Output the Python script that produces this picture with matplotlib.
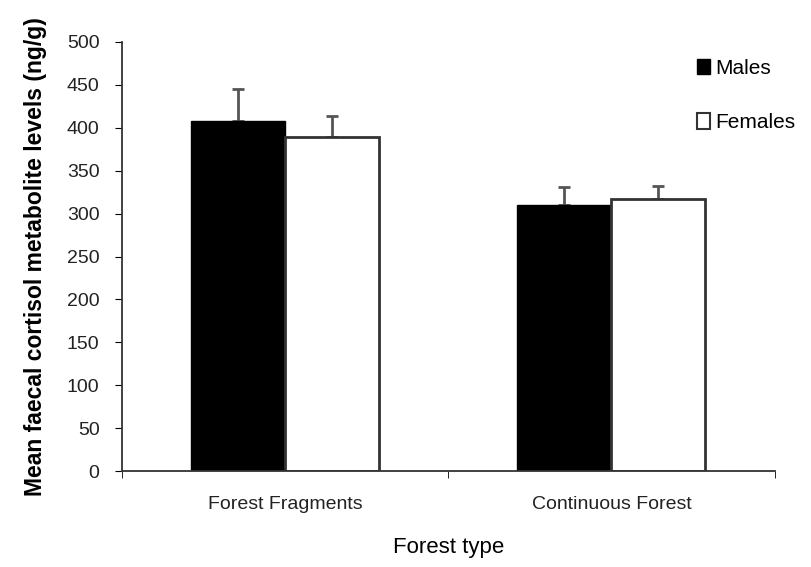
import matplotlib.pyplot as plt
import numpy as np
from matplotlib.patches import Patch

plt.rcParams['font.family'] = ['Liberation Sans', 'DejaVu Sans']

categories = ["Forest Fragments", "Continuous Forest"]
males = [408, 310]
females = [389, 317]
males_err = [37, 21]
females_err = [25, 15]

fig = plt.figure(figsize=(8.12, 5.67), dpi=100)
ax = fig.add_axes([0.150, 0.169, 0.804, 0.757])

x = np.arange(len(categories))
w = 0.288

# error bars first, bars drawn on top hide the lower caps
ax.errorbar(x - w / 2, males, yerr=[np.zeros(2), males_err], fmt='none',
            ecolor='#555555', elinewidth=2, capsize=4, capthick=2, zorder=1)
ax.errorbar(x + w / 2, females, yerr=[np.zeros(2), females_err], fmt='none',
            ecolor='#555555', elinewidth=2, capsize=4, capthick=2, zorder=1)
ax.bar(x - w / 2, males, w, color='black', edgecolor='black', linewidth=1, zorder=2)
ax.bar(x + w / 2, females, w, color='white', edgecolor='#333333', linewidth=2, zorder=2)

ax.set_xlim(-0.5, 1.5)
ax.set_ylim(0, 500)
ax.set_yticks(np.arange(0, 501, 50))
ax.set_xticks(x)
ax.set_xticklabels(categories, fontsize=14, color='#222222')
ax.set_xticks([-0.5, 0.5, 1.5], minor=True)
ax.tick_params(axis='x', which='major', length=0, pad=18)
ax.tick_params(axis='x', which='minor', length=5, direction='out')
ax.tick_params(axis='y', labelsize=14, length=5, direction='out', pad=11,
               labelcolor='#222222')

for s in ['top', 'right']:
    ax.spines[s].set_visible(False)
for s in ['left', 'bottom']:
    ax.spines[s].set_linewidth(1.3)
    ax.spines[s].set_color('#333333')

ax.set_ylabel("Mean faecal cortisol metabolite levels (ng/g)", fontsize=16.5,
              fontweight='bold', labelpad=14)
ax.set_xlabel("Forest type", fontsize=16, labelpad=17)

handles = [Patch(facecolor='black', edgecolor='black'),
           Patch(facecolor='white', edgecolor='#333333', linewidth=1.5)]
fig.legend(handles, ["Males", "Females"], loc='upper left',
           bbox_to_anchor=(0.858, 0.896), frameon=False, fontsize=15,
           handlelength=0.65, handleheight=0.75, handletextpad=0.25,
           labelspacing=1.7, borderpad=0, borderaxespad=0)

fig.savefig("out.png", dpi=100)
